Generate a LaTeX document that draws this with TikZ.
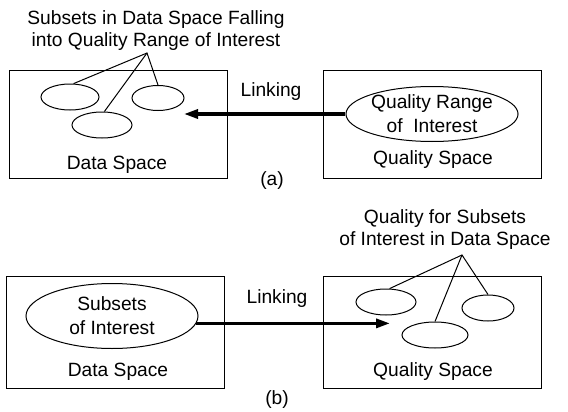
\documentclass[tikz,border=0pt]{standalone}
\usepackage{fontspec}
\setmainfont{Liberation Sans}
\usetikzlibrary{arrows.meta,shapes.geometric}

\begin{document}
\begin{tikzpicture}[x=0.5pt, y=-0.5pt, >={Triangle[length=7pt,width=4.5pt]},
    lbl/.style={font=\fontsize{9.6}{11}\selectfont, align=center, inner sep=0pt},
    spacebox/.style={draw, line width=0.5pt, minimum width=109pt, minimum height=54pt, inner sep=0pt},
    blob/.style={draw, ellipse, line width=0.5pt, inner sep=0pt},
    link/.style={->, line width=1.6pt}]

    \useasboundingbox (0,0) rectangle (568,412);

    % (a): quality range -> data space
    \node[spacebox] (dataA) at (118.5,124.5) {};
    \node[spacebox] (qualA) at (432,124.5) {};
    \node[lbl] (dataAname) at (117,165) {Data Space};
    \node[lbl] (qualAname) at (433,160) {Quality Space};
    \node[blob, lbl, minimum width=86pt, minimum height=27.5pt] (rangeA) at (432,114) {Quality Range\\[1pt]of\ \ Interest};
    \node[blob, minimum width=29pt, minimum height=13pt] (subA1) at (70,97) {};
    \node[blob, minimum width=30pt, minimum height=13pt] (subA2) at (102,125) {};
    \node[blob, minimum width=26pt, minimum height=12.5pt] (subA3) at (158,98) {};
    \node[lbl] (fallA) at (156,31) {Subsets in Data Space Falling\\into Quality Range of Interest};
    \coordinate (apexA) at (147,53);
    \draw[line width=0.5pt] (subA1.75) -- (apexA) -- (subA3.north);
    \draw[line width=0.5pt] (subA2.80) -- (apexA);
    \coordinate (tipA) at (184,114);
    \draw[link] (rangeA.west) -- (rangeA.west -| tipA);
    \node[lbl] (linkA) at (271,92) {Linking};
    \node[lbl] (capA) at (272,181) {(a)};

    % (b): subsets of interest -> quality space
    \node[spacebox, minimum height=56pt] (dataB) at (115.5,332) {};
    \node[spacebox, minimum height=56pt] (qualB) at (432,332) {};
    \node[lbl] (dataBname) at (118,372) {Data Space};
    \node[lbl] (qualBname) at (433,372) {Quality Space};
    \node[blob, lbl, minimum width=86pt, minimum height=32.5pt] (soiB) at (112,316) {Subsets\\[1pt]of Interest};
    \node[blob, minimum width=30pt, minimum height=13pt] (subB1) at (386,302) {};
    \node[blob, minimum width=33pt, minimum height=13pt] (subB2) at (435,335) {};
    \node[blob, minimum width=26pt, minimum height=13pt] (subB3) at (488,308) {};
    \node[lbl] (qfsB) at (445,230) {Quality for Subsets\\of Interest in Data Space};
    \coordinate (apexB) at (462,255);
    \draw[line width=0.5pt] (subB1.75) -- (apexB) -- (subB3.north);
    \draw[line width=0.5pt] (subB2.north) -- (apexB);
    \coordinate (tipB) at (390,323);
    \draw[link] (soiB.-5) -- (soiB.-5 -| tipB);
    \node[lbl] (linkB) at (277,299) {Linking};
    \node[lbl] (capB) at (277,400) {(b)};
\end{tikzpicture}
\end{document}
